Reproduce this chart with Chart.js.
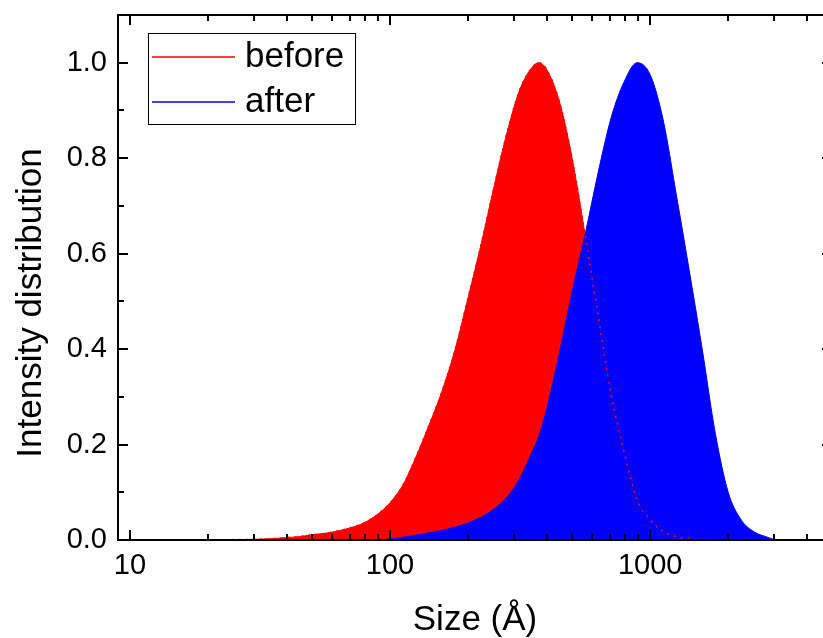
<!DOCTYPE html>
<html>
<head>
<meta charset="utf-8">
<script src="https://cdn.jsdelivr.net/npm/chart.js@4.4.0/dist/chart.umd.min.js"></script>
<style>
  html, body { margin: 0; padding: 0; background: #fff; overflow: hidden; }
  #wrap { width: 836px; height: 638px; }
</style>
</head>
<body>
<div id="wrap"><canvas id="sizeChart" width="836" height="638"></canvas></div>
<script>
// Size grid (Å) shared by both curves
var sizes = [14.1, 15.8, 17.8, 20.0, 22.4, 25.1, 28.2, 31.6, 35.5, 39.8,
             44.7, 50.1, 56.2, 63.1, 70.8, 79.4, 89.1, 100, 112, 126,
             141, 158, 178, 200, 224, 251, 282, 316, 355, 372,
             398, 447, 501, 562, 631, 708, 794, 891, 1000, 1122,
             1259, 1413, 1585, 1778, 1995, 2239, 2512, 2818, 3020];

var before = [0, 0, 0.0002, 0.0003, 0.0005, 0.0008, 0.0012, 0.0018, 0.003, 0.005,
              0.007, 0.011, 0.014, 0.019, 0.026, 0.036, 0.053, 0.078, 0.115, 0.175,
              0.24, 0.31, 0.40, 0.51, 0.62, 0.74, 0.855, 0.945, 0.993, 1.0,
              0.988, 0.92, 0.80, 0.64, 0.47, 0.305, 0.185, 0.084, 0.042, 0.018,
              0.007, 0.002, 0, null, null, null, null, null, null];

var after = [null, null, null, null, null, null, null, null, null, null,
             null, null, null, null, null, null, 0, 0.002, 0.006, 0.010,
             0.015, 0.020, 0.027, 0.036, 0.048, 0.065, 0.09, 0.13, 0.19, 0.215,
             0.27, 0.39, 0.52, 0.64, 0.77, 0.885, 0.96, 1.0, 0.975, 0.88,
             0.725, 0.565, 0.40, 0.225, 0.10, 0.042, 0.017, 0.006, 0];

var seriesNames = ["before", "after"];
var xTicks = [10, 100, 1000];
var xMinorTicks = [20, 30, 40, 50, 60, 70, 80, 90, 200, 300, 400, 500, 600, 700, 800, 900, 2000, 3000, 4000];
var yTicks = [0, 0.2, 0.4, 0.6, 0.8, 1.0];
var yMinorTicks = [0.1, 0.3, 0.5, 0.7, 0.9];
var yTitle = "Intensity distribution";

function pts(vals) {
    return sizes.map(function (s, i) { return { x: s, y: vals[i] }; });
}

var FONT = "'Liberation Sans', Arial, sans-serif";

// frame with inward ticks on all four sides, legend and y title
var framePlugin = {
    id: 'frame',
    afterDraw: function (chart) {
        var ctx = chart.ctx, a = chart.chartArea;
        var x = chart.scales.x, y = chart.scales.y;
        ctx.save();
        ctx.strokeStyle = '#000';
        ctx.lineWidth = 2;
        ctx.strokeRect(a.left, a.top, a.right - a.left, a.bottom - a.top);
        ctx.beginPath();
        function xt(v, len) {
            var px = Math.round(x.getPixelForValue(v));
            ctx.moveTo(px, a.bottom); ctx.lineTo(px, a.bottom - len);
            ctx.moveTo(px, a.top); ctx.lineTo(px, a.top + len);
        }
        function yt(v, len) {
            var py = Math.round(y.getPixelForValue(v));
            ctx.moveTo(a.left, py); ctx.lineTo(a.left + len, py);
            ctx.moveTo(a.right, py); ctx.lineTo(a.right - len, py);
        }
        xTicks.forEach(function (v) { xt(v, 10); });
        xMinorTicks.forEach(function (v) { xt(v, 6); });
        yTicks.forEach(function (v) { yt(v, 10); });
        yMinorTicks.forEach(function (v) { yt(v, 6); });
        ctx.stroke();

        // legend box
        var lx = a.left + 30, ly = a.top + 18;
        ctx.lineWidth = 1;
        ctx.strokeRect(lx + 0.5, ly + 0.5, 207, 91);
        var colors = ['#ff0000', '#0000ff'];
        ctx.font = '35px ' + FONT;
        ctx.textBaseline = 'middle';
        ctx.fillStyle = '#000';
        seriesNames.forEach(function (name, i) {
            var cy = ly + 24 + i * 45;
            ctx.strokeStyle = colors[i];
            ctx.lineWidth = 1.5;
            ctx.beginPath();
            ctx.moveTo(lx + 4, cy); ctx.lineTo(lx + 87, cy);
            ctx.stroke();
            ctx.fillText(name, lx + 97, cy);
        });

        // y axis title, sits a little below the plot centre
        ctx.translate(31, a.top + 288);
        ctx.rotate(-Math.PI / 2);
        ctx.textAlign = 'center';
        ctx.fillText(yTitle, 0, 0);
        ctx.restore();
    }
};

var chartEl = document.getElementById("sizeChart");

var SizeChart = new Chart(chartEl, {
    type: 'line',
    data: {
        datasets: [{
            label: seriesNames[0] + ' line',
            data: pts(before),
            borderColor: '#ff0000',
            borderWidth: 1.5,
            borderDash: [2, 5],
            fill: false,
            pointRadius: 0,
            cubicInterpolationMode: 'monotone',
            spanGaps: false,
            order: 0
        }, {
            label: seriesNames[1],
            data: pts(after),
            borderColor: '#0000ff',
            backgroundColor: '#0000ff',
            borderWidth: 1,
            fill: 'origin',
            pointRadius: 0,
            cubicInterpolationMode: 'monotone',
            order: 1
        }, {
            label: seriesNames[0],
            data: pts(before),
            borderColor: '#ff0000',
            backgroundColor: '#ff0000',
            borderWidth: 1,
            fill: 'origin',
            pointRadius: 0,
            cubicInterpolationMode: 'monotone',
            order: 2
        }]
    },
    options: {
        responsive: false,
        animation: false,
        devicePixelRatio: 1,
        layout: { padding: { top: 15, right: 4, left: 0, bottom: 0 } },
        plugins: { legend: { display: false }, tooltip: { enabled: false } },
        scales: {
            x: {
                type: 'logarithmic',
                min: 9,
                max: 5000,
                grid: { display: false, drawTicks: false },
                border: { display: false },
                afterBuildTicks: function (s) { s.ticks = xTicks.map(function (v) { return { value: v }; }); },
                afterFit: function (s) { s.height = 98; s.paddingLeft = 0; s.paddingRight = 0; },
                ticks: {
                    autoSkip: false,
                    maxRotation: 0,
                    padding: 9,
                    color: '#000',
                    font: { family: FONT, size: 29, lineHeight: 1.2 },
                    callback: function (v) { return String(v); }
                },
                title: {
                    display: true,
                    text: 'Size (Å)',
                    color: '#000',
                    padding: { top: 0, bottom: 0 },
                    font: { family: FONT, size: 35, lineHeight: 1 }
                }
            },
            y: {
                min: 0,
                max: 1.1,
                grid: { display: false, drawTicks: false },
                border: { display: false },
                afterBuildTicks: function (s) { s.ticks = yTicks.map(function (v) { return { value: v }; }); },
                afterFit: function (s) { s.width = 118; s.paddingTop = 0; s.paddingBottom = 0; },
                ticks: {
                    padding: 11,
                    color: '#000',
                    font: { family: FONT, size: 29, lineHeight: 1.2 },
                    callback: function (v) { return Number(v).toFixed(1); }
                },
                title: { display: false }
            }
        }
    },
    plugins: [framePlugin]
});
</script>
</body>
</html>
